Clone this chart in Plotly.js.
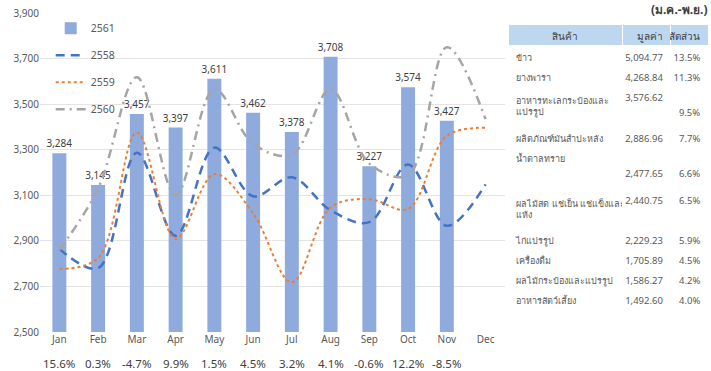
<!DOCTYPE html>
<html>
<head>
<meta charset="utf-8">
<script src="https://cdn.plot.ly/plotly-3.0.1.min.js"></script>
<style>html,body{margin:0;padding:0;background:#fff;}#chart{width:711px;height:371px;}</style>
</head>
<body>
<div id="chart"></div>
<script>
// ---- data ----
const months = ['Jan','Feb','Mar','Apr','May','Jun','Jul','Aug','Sep','Oct','Nov','Dec'];
const v2561 = [3284, 3145, 3457, 3397, 3611, 3462, 3378, 3708, 3227, 3574, 3427, null];
const v2558 = [2865, 2780, 3287, 2922, 3309, 3096, 3179, 3034, 2982, 3235, 2966, 3148];
const v2559 = [2777, 2825, 3375, 2909, 3193, 3021, 2718, 3047, 3083, 3040, 3361, 3396];
const v2560 = [2860, 3130, 3618, 3100, 3566, 3326, 3278, 3566, 3239, 3188, 3750, 3434];
const growth = ['15.6%','0.3%','-4.7%','9.9%','1.5%','4.5%','3.2%','4.1%','-0.6%','12.2%','-8.5%',''];
const yTicks = [2500, 2700, 2900, 3100, 3300, 3500, 3700, 3900];

const tableHeader = ['สินค้า', 'มูลค่า', 'สัดส่วน'];
const tablePeriod = '(ม.ค.-พ.ย.)';
const products = ['ข้าว', 'ยางพารา', 'อาหารทะเลกระป๋องและ<br>แปรรูป', 'ผลิตภัณฑ์มันสำปะหลัง', 'น้ำตาลทราย',
  'ผลไม้สด แช่เย็น แช่แข็งและ<br>แห้ง', 'ไก่แปรรูป', 'เครื่องดื่ม', 'ผลไม้กระป๋องและแปรรูป', 'อาหารสัตว์เลี้ยง'];
const productValues = [5094.77, 4268.84, 3576.62, 2886.96, 2477.65, 2440.75, 2229.23, 1705.89, 1586.27, 1492.60];
const productShares = [13.5, 11.3, 9.5, 7.7, 6.6, 6.5, 5.9, 4.5, 4.2, 4.0];

// ---- layout helpers (line placement inside table cells) ----
const NB = '\u00a0';
const valueBreaks = [0,0,0,0,1,0,0,0,0,0];
const shareBreaks = [0,0,1,0,1,0,0,0,0,0];

const fmtVal = v => v.toLocaleString('en-US', {minimumFractionDigits: 2, maximumFractionDigits: 2});
const pad = n => (NB + '<br>').repeat(n);
const valueCells = productValues.map((v,i) => pad(valueBreaks[i]) + fmtVal(v));
const shareCells = productShares.map((v,i) => pad(shareBreaks[i]) + v.toFixed(1) + '%');

const FONT = '"Noto Sans", "Open Sans", sans-serif';

const traces = [
  {type:'bar', name:'2561', x: months, y: v2561, legendgroup:'a',
   marker:{color:'#8faadc'}, texttemplate:'%{y:,}', textposition:'outside', constraintext:'none',
   textfont:{size:10, color:'#404040'}, cliponaxis:false, hoverinfo:'skip'},
  {type:'scatter', mode:'lines', name:'2558', x: months, y: v2558, legendgroup:'b',
   line:{color:'#4472c4', width:2.5, dash:'9px,6px', shape:'spline', smoothing:1}},
  {type:'scatter', mode:'lines', name:'2559', x: months, y: v2559, legendgroup:'c',
   line:{color:'#ed7d31', width:2, dash:'dot', shape:'spline', smoothing:1}},
  {type:'scatter', mode:'lines', name:'2560', x: months, y: v2560, legendgroup:'d',
   line:{color:'#a5a5a5', width:2.5, dash:'9px,5px,2px,5px', shape:'spline', smoothing:1}},
  {type:'table', domain:{x:[0.7, 1], y:[0, 0.963]}, columnwidth:[116, 49, 38],
   header:{values: tableHeader, align:['center','right','right'], fill:{color:'#bdd7ee'},
     line:{color:'#ffffff', width:1}, font:{family:FONT, size:10, color:'#404040'}, height:21},
   cells:{values:[products, valueCells, shareCells], align:['left','right','right'],
     fill:{color:'#ffffff'}, line:{color:'#ffffff', width:1},
     font:{family:FONT, size:[9, 9.5, 9.5], color:'#595959'}, height:20}}
];

const annotations = months.map((m,i) => ({
  x: m, xref:'x', y: -0.1, yref:'paper', text: growth[i], showarrow:false,
  font:{size:11.5, color:'#404040'}, yanchor:'middle'
}));
annotations.push({x:1, xref:'paper', xanchor:'right', y:1.01, yref:'paper', yanchor:'middle',
  text:'<b>'+tablePeriod+'</b>', showarrow:false, font:{size:12, color:'#404040'}});

const layout = {
  width:711, height:371,
  margin:{l:40, r:2, t:13, b:39},
  paper_bgcolor:'#ffffff', plot_bgcolor:'#ffffff',
  font:{family:FONT, color:'#595959', size:10},
  showlegend:true,
  legend:{x:0.016, y:0.998, xanchor:'left', yanchor:'top', bgcolor:'rgba(0,0,0,0)',
    font:{size:10.5, color:'#595959'}, tracegroupgap:8, itemwidth:30, traceorder:'grouped'},
  bargap:0.64,
  xaxis:{domain:[0, 0.695], type:'category', range:[-0.5, 11.5], showgrid:false,
    showline:false, ticks:'', tickfont:{size:10, color:'#595959'}, fixedrange:true},
  yaxis:{range:[2500, 3900], tickmode:'array', tickvals:yTicks, tickformat:',d', showgrid:true,
    gridcolor:'#e4e4e4', zeroline:false, showline:false, ticks:'', tickfont:{size:10, color:'#595959'}},
  annotations: annotations
};

Plotly.newPlot('chart', traces, layout, {staticPlot:true});
</script>
</body>
</html>
